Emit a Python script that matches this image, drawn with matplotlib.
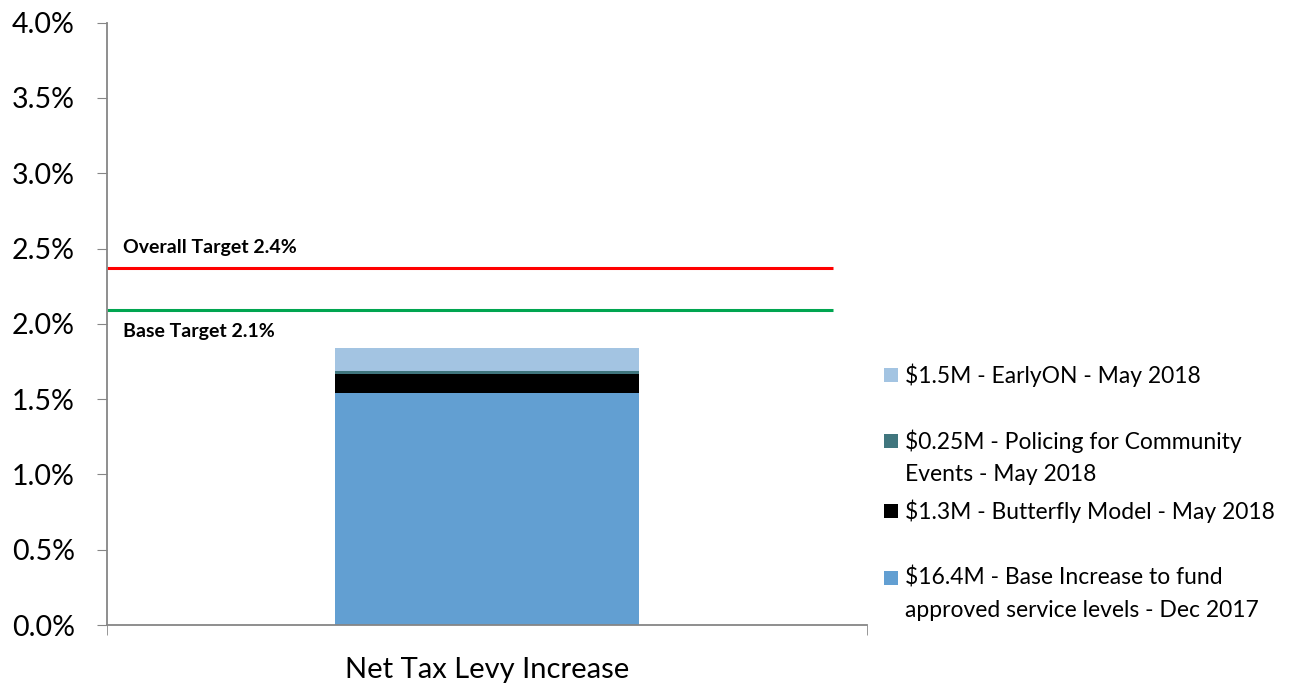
import matplotlib
matplotlib.use("Agg")
import matplotlib.pyplot as plt
from matplotlib.patches import Rectangle

plt.rcParams['font.family'] = ['Lato', 'DejaVu Sans']

# stacked components of the levy increase (% points), bottom to top
category = "Net Tax Levy Increase"
segment_labels = [
    "$16.4M - Base Increase to fund\napproved service levels - Dec 2017",
    "$1.3M - Butterfly Model - May 2018",
    "$0.25M - Policing for Community\nEvents - May 2018",
    "$1.5M - EarlyON - May 2018",
]
segment_values = [1.543, 0.126, 0.020, 0.153]
segment_colors = ["#629FD2", "#000000", "#40767E", "#A3C4E2"]

overall_target = 2.37
base_target = 2.09
target_labels = ["Overall Target 2.4%", "Base Target 2.1%"]

y_ticks = [0.0, 0.5, 1.0, 1.5, 2.0, 2.5, 3.0, 3.5, 4.0]

fig = plt.figure(figsize=(12.96, 6.87), dpi=100)
ax = fig.add_axes([107 / 1296, 1 - 625 / 687, 760 / 1296, (625 - 22.7) / 687])

bottom = 0.0
for val, col in zip(segment_values, segment_colors):
    ax.bar(0, val, width=0.4, bottom=bottom, color=col, linewidth=0)
    bottom += val

# target lines
ax.plot([-0.5, 0.455], [overall_target, overall_target], color="#FF0000", lw=2.2, solid_capstyle="butt")
ax.plot([-0.5, 0.455], [base_target, base_target], color="#00A550", lw=2.2, solid_capstyle="butt")
ax.text(-0.479, overall_target + 0.14, target_labels[0], fontsize=14, fontweight="bold", va="center", ha="left")
ax.text(-0.479, base_target - 0.14, target_labels[1], fontsize=14, fontweight="bold", va="center", ha="left")

ax.set_xlim(-0.5, 0.5)
ax.set_ylim(0, 4.0)
ax.set_yticks(y_ticks)
ax.set_yticklabels([f"{t:.1f}%" for t in y_ticks], fontsize=20.5)
ax.set_xticks([0])
ax.set_xticklabels([category], fontsize=21)
ax.set_xticks([-0.5, 0.5], minor=True)
ax.tick_params(axis="x", which="major", length=0, pad=23)
ax.tick_params(axis="x", which="minor", length=7, color="#868686", direction="out")
ax.tick_params(axis="y", length=7, color="#868686", direction="out", pad=16)
ax.spines["top"].set_visible(False)
ax.spines["right"].set_visible(False)
for s in ["left", "bottom"]:
    ax.spines[s].set_color("#868686")
    ax.spines[s].set_linewidth(1.3)

# legend entries, top to bottom (reverse of stacking): (square y, text centre y) in pixels
legend_rows = [(375, 375), (441, 457.5), (511, 511), (578, 594)]
for i, (sq_y, txt_y) in enumerate(legend_rows):
    idx = len(segment_values) - 1 - i
    fig.patches.append(Rectangle((884 / 1296, 1 - (sq_y + 7) / 687), 14 / 1296, 14 / 687,
                                 transform=fig.transFigure, color=segment_colors[idx], lw=0))
    fig.text(905 / 1296, 1 - txt_y / 687, segment_labels[idx], fontsize=16.5, va="center",
             ha="left", linespacing=1.65)

fig.savefig("out.png", dpi=100)
